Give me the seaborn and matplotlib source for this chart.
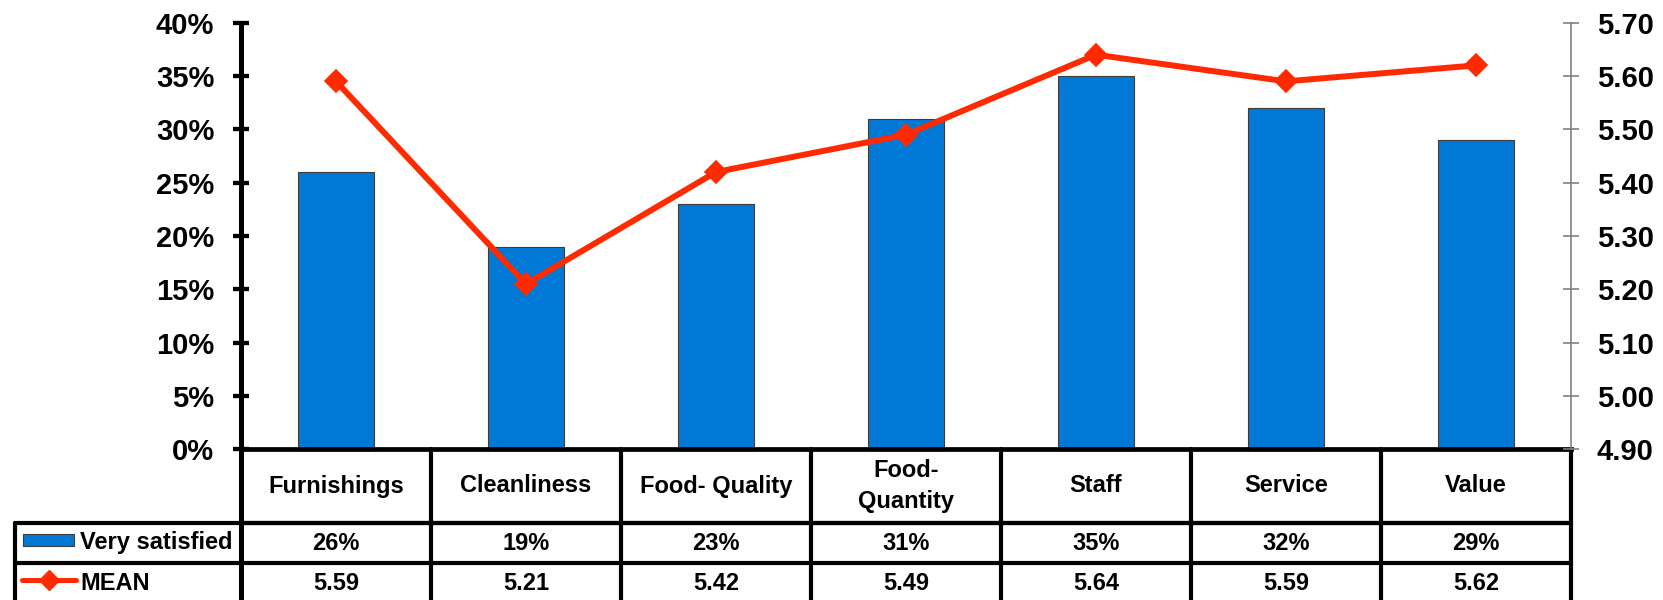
import numpy as np
import pandas as pd
import matplotlib
matplotlib.use("Agg")
import matplotlib.pyplot as plt
from matplotlib.lines import Line2D
from matplotlib.patches import Rectangle
from matplotlib.ticker import FuncFormatter, FixedLocator
import seaborn as sns

# ---- data -------------------------------------------------------------
categories = ["Furnishings", "Cleanliness", "Food- Quality", "Food-\nQuantity",
              "Staff", "Service", "Value"]
very_satisfied = [0.26, 0.19, 0.23, 0.31, 0.35, 0.32, 0.29]
mean_scores = [5.59, 5.21, 5.42, 5.49, 5.64, 5.59, 5.62]
pct_ticks = [0.00, 0.05, 0.10, 0.15, 0.20, 0.25, 0.30, 0.35, 0.40]
mean_ticks = [4.90, 5.00, 5.10, 5.20, 5.30, 5.40, 5.50, 5.60, 5.70]
series_names = ["Very satisfied", "MEAN"]

# ---- style --------------------------------------------------------------
BAR_COLOR = "#0079D6"
BAR_EDGE = "#3C3C3C"
LINE_COLOR = "#FF2A00"
TICK_FS = 21
TABLE_FS = 17
W, H = 1663, 600

sns.set_theme(style="white")
plt.rcParams["font.family"] = ["Liberation Sans", "DejaVu Sans"]
plt.rcParams["font.weight"] = "bold"

fig = plt.figure(figsize=(W / 100, H / 100), dpi=100)
fig.patch.set_facecolor("white")


def fx(px):
    return px / W


def fy(py):
    return 1 - py / H


plot_left, plot_right, plot_top, plot_bottom = 241, 1571, 22.7, 449.3
ax = fig.add_axes([fx(plot_left), fy(plot_bottom),
                   fx(plot_right - plot_left), (plot_bottom - plot_top) / H])

df = pd.DataFrame({"category": categories, "pct": very_satisfied, "mean": mean_scores})
x_pos = np.arange(len(categories))

# bars: share of "very satisfied"
sns.barplot(data=df, x="category", y="pct", color=BAR_COLOR, saturation=1,
            width=0.4, edgecolor=BAR_EDGE, linewidth=0.8, ax=ax)
ax.set_xlim(-0.5, len(categories) - 0.5)
ax.set_ylim(0, 0.40)
ax.yaxis.set_major_locator(FixedLocator(pct_ticks))
ax.yaxis.set_major_formatter(FuncFormatter(lambda v, _: f"{v * 100:.0f}%"))
ax.set_xlabel("")
ax.set_ylabel("")
ax.tick_params(axis="x", bottom=False, labelbottom=False)
ax.tick_params(axis="y", left=True, direction="inout", length=12, width=3.1,
               color="black", labelsize=TICK_FS, pad=13.3, labelcolor="black")
for lab in ax.get_yticklabels():
    lab.set_fontweight("bold")
for side in ("top", "right"):
    ax.spines[side].set_visible(False)
ax.spines["left"].set_color("black")
ax.spines["left"].set_linewidth(3.6)
ax.spines["bottom"].set_color("black")
ax.spines["bottom"].set_linewidth(3.4)

# line: mean score on the secondary axis
ax2 = ax.twinx()
sns.lineplot(x=x_pos, y=mean_scores, ax=ax2, color=LINE_COLOR, linewidth=4.3,
             marker="D", markersize=11.5, markeredgecolor=LINE_COLOR,
             markeredgewidth=1.2, sort=False)
ax2.set_xlim(-0.5, len(categories) - 0.5)
ax2.set_ylim(4.90, 5.70)
ax2.yaxis.set_major_locator(FixedLocator(mean_ticks))
ax2.yaxis.set_major_formatter(FuncFormatter(lambda v, _: f"{v:.2f}"))
ax2.set_xlabel("")
ax2.set_ylabel("")
ax2.tick_params(axis="y", right=True, direction="inout", length=12, width=1.2,
                color="#808080", labelsize=TICK_FS, pad=12.4, labelcolor="black")
for lab in ax2.get_yticklabels():
    lab.set_fontweight("bold")
for side in ("top", "left", "bottom"):
    ax2.spines[side].set_visible(False)
ax2.spines["right"].set_color("#808080")
ax2.spines["right"].set_linewidth(1.2)

# ---- data table under the plot ------------------------------------------
header_bottom, row1_bottom, row2_bottom = 522.7, 563.3, 604.0
legend_left = 15
TABLE_LW = 3.0
xtr = ax.get_xaxis_transform()
span = plot_bottom - plot_top


def ay(py):
    return -(py - plot_bottom) / span


# horizontal rules
fig.add_artist(Line2D([fx(plot_left), fx(plot_right)], [fy(header_bottom)] * 2,
                      color="black", lw=TABLE_LW, transform=fig.transFigure))
for yb in (header_bottom, row1_bottom):
    fig.add_artist(Line2D([fx(legend_left), fx(plot_right)], [fy(yb)] * 2,
                          color="black", lw=TABLE_LW, transform=fig.transFigure))
# vertical rules between the columns
for k in range(len(categories) + 1):
    ax.add_line(Line2D([k - 0.5, k - 0.5], [0, ay(row2_bottom + 10)], color="black",
                       lw=3.6 if k == 0 else TABLE_LW, transform=xtr, clip_on=False))
fig.add_artist(Line2D([fx(legend_left)] * 2, [fy(header_bottom), fy(row2_bottom + 10)],
                      color="black", lw=TABLE_LW, transform=fig.transFigure))

# cell texts
y_head = ay((plot_bottom + header_bottom) / 2)
y_r1 = ay((header_bottom + row1_bottom) / 2)
y_r2 = ay((row1_bottom + row2_bottom) / 2)
for i, cat in enumerate(categories):
    ax.text(i, y_head, cat, transform=xtr, ha="center", va="center",
            fontsize=TABLE_FS, fontweight="bold", color="black", linespacing=1.4,
            clip_on=False)
    ax.text(i, y_r1, f"{very_satisfied[i] * 100:.0f}%", transform=xtr, ha="center",
            va="center", fontsize=TABLE_FS, fontweight="bold", color="black",
            clip_on=False)
    ax.text(i, y_r2, f"{mean_scores[i]:.2f}", transform=xtr, ha="center",
            va="center", fontsize=TABLE_FS, fontweight="bold", color="black",
            clip_on=False)

# legend keys inside the first column
fig.add_artist(Rectangle((fx(23), fy(546)), fx(51), 12 / H, facecolor=BAR_COLOR,
                         edgecolor=BAR_EDGE, lw=0.8, transform=fig.transFigure))
fig.add_artist(Line2D([fx(22), fx(76)], [fy(580)] * 2, color=LINE_COLOR, lw=3.6,
                      transform=fig.transFigure))
fig.add_artist(Line2D([fx(49)], [fy(580)], color=LINE_COLOR, marker="D",
                      markersize=10, markeredgecolor=LINE_COLOR, lw=0,
                      transform=fig.transFigure))
for name, yc in zip(series_names, [(header_bottom + row1_bottom) / 2,
                                   (row1_bottom + row2_bottom) / 2]):
    fig.text(fx(80), fy(yc), name, ha="left", va="center", fontsize=TABLE_FS,
             fontweight="bold", color="black")

fig.savefig("out.png", dpi=100, facecolor="white")
